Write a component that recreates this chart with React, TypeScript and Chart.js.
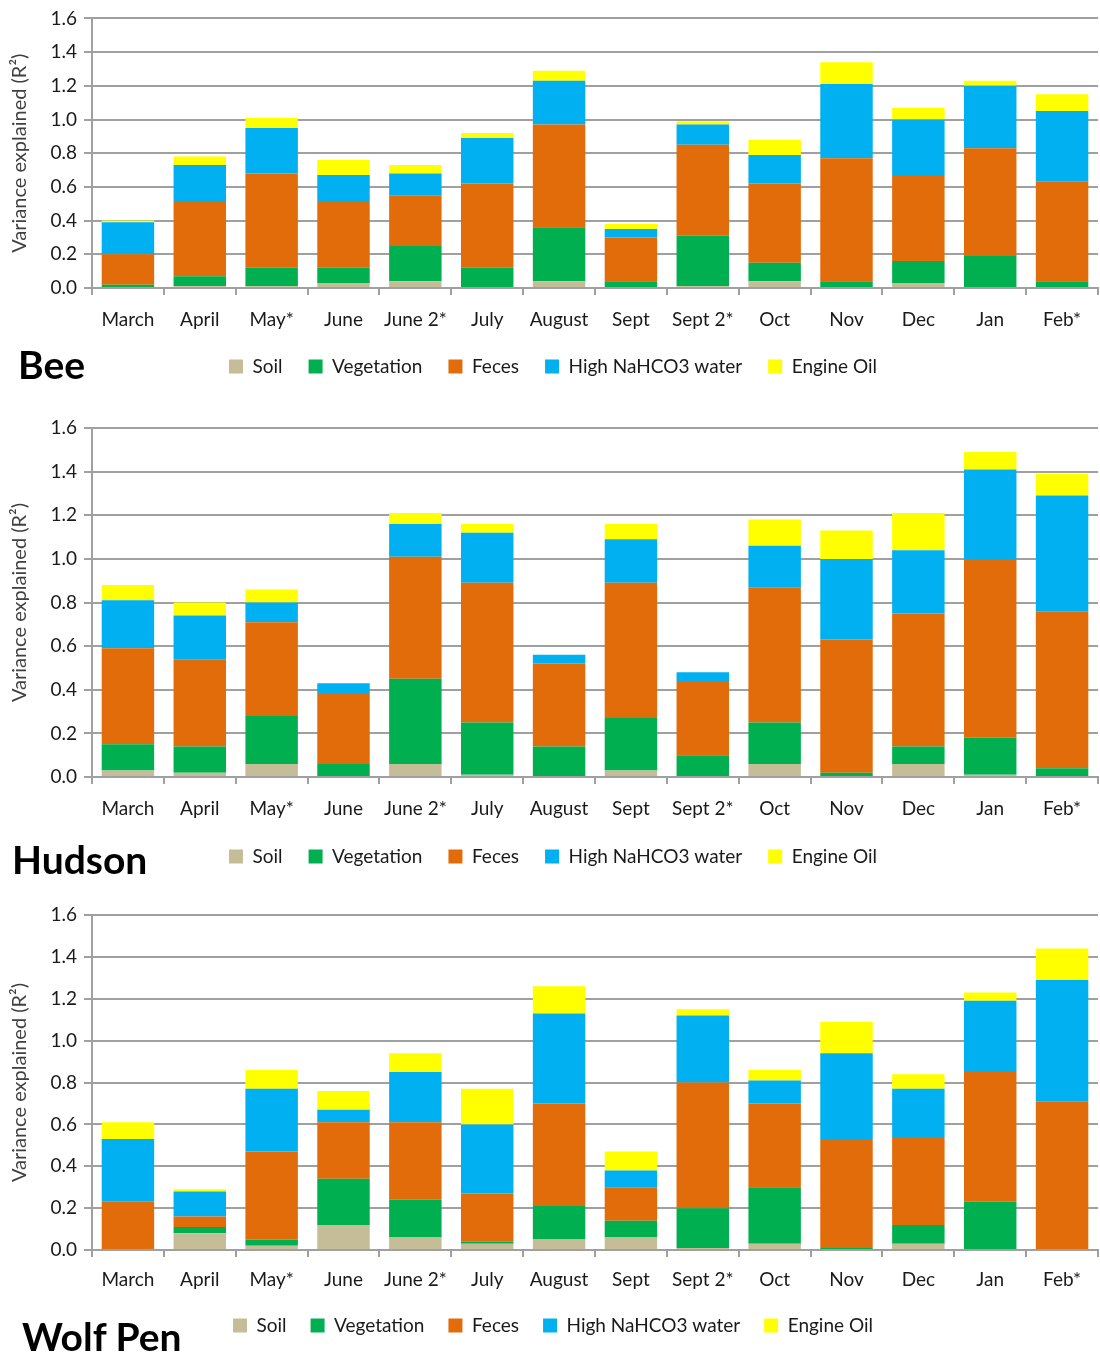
import React, { useEffect, useRef } from "react";
import { Chart, registerables } from "chart.js";
Chart.register(...registerables);

const categories = ["March", "April", "May*", "June", "June 2*", "July", "August", "Sept", "Sept 2*", "Oct", "Nov", "Dec", "Jan", "Feb*"];
const seriesNames = ["Soil", "Vegetation", "Feces", "High NaHCO3 water", "Engine Oil"];
const seriesColors = ["#C4BD97", "#00B050", "#E36C0A", "#00B0F0", "#FFFF00"];
const yTicks = [0, 0.2, 0.4, 0.6, 0.8, 1.0, 1.2, 1.4, 1.6];
const yTitle = "Variance explained (R²)";

// Bee
const beeSoil = [0, 0.01, 0.01, 0.03, 0.04, 0, 0.04, 0, 0.01, 0.04, 0, 0.03, 0, 0];
const beeVegetation = [0.02, 0.06, 0.11, 0.09, 0.21, 0.12, 0.32, 0.04, 0.30, 0.11, 0.04, 0.13, 0.19, 0.04];
const beeFeces = [0.18, 0.44, 0.56, 0.39, 0.30, 0.50, 0.61, 0.26, 0.54, 0.47, 0.73, 0.51, 0.64, 0.59];
const beeWater = [0.19, 0.22, 0.27, 0.16, 0.13, 0.27, 0.26, 0.05, 0.12, 0.17, 0.44, 0.33, 0.37, 0.42];
const beeOil = [0.01, 0.05, 0.06, 0.09, 0.05, 0.03, 0.06, 0.03, 0.02, 0.09, 0.13, 0.07, 0.03, 0.10];

// Hudson
const hudsonSoil = [0.03, 0.02, 0.06, 0, 0.06, 0.01, 0, 0.03, 0, 0.06, 0, 0.06, 0.01, 0];
const hudsonVegetation = [0.12, 0.12, 0.22, 0.06, 0.39, 0.24, 0.14, 0.24, 0.10, 0.19, 0.02, 0.08, 0.17, 0.04];
const hudsonFeces = [0.44, 0.40, 0.43, 0.32, 0.56, 0.64, 0.38, 0.62, 0.34, 0.62, 0.61, 0.61, 0.82, 0.72];
const hudsonWater = [0.22, 0.20, 0.09, 0.05, 0.15, 0.23, 0.04, 0.20, 0.04, 0.19, 0.37, 0.29, 0.41, 0.53];
const hudsonOil = [0.07, 0.06, 0.06, 0, 0.05, 0.04, 0, 0.07, 0, 0.12, 0.13, 0.17, 0.08, 0.10];

// Wolf Pen
const wolfSoil = [0, 0.08, 0.02, 0.12, 0.06, 0.03, 0.05, 0.06, 0.01, 0.03, 0, 0.03, 0, 0];
const wolfVegetation = [0, 0.03, 0.03, 0.22, 0.18, 0.01, 0.16, 0.08, 0.19, 0.27, 0.01, 0.09, 0.23, 0];
const wolfFeces = [0.23, 0.05, 0.42, 0.27, 0.37, 0.23, 0.49, 0.16, 0.60, 0.40, 0.52, 0.42, 0.62, 0.71];
const wolfWater = [0.30, 0.12, 0.30, 0.06, 0.24, 0.33, 0.43, 0.08, 0.32, 0.11, 0.41, 0.23, 0.34, 0.58];
const wolfOil = [0.08, 0.01, 0.09, 0.09, 0.09, 0.17, 0.13, 0.09, 0.03, 0.05, 0.15, 0.07, 0.04, 0.15];

const FONT = "Lato, 'Open Sans', sans-serif";
const GRID = "#a0a0a0";

type PanelProps = {
  title: string;
  series: number[][];
  top: number;
  height: number;
  padTop: number;
  xHeight: number;
  tickPad: number;
  legendPad: number;
  titleLeft: number;
  titleTop: number;
};

function Panel(p: PanelProps) {
  const ref = useRef<HTMLCanvasElement | null>(null);
  useEffect(() => {
    if (!ref.current) return;
    const chart = new Chart(ref.current, {
      type: "bar",
      data: {
        labels: categories,
        datasets: seriesNames.map((name, i) => ({
          label: name,
          data: p.series[i],
          backgroundColor: seriesColors[i],
          borderWidth: 0,
          barPercentage: 0.73,
          categoryPercentage: 1.0,
        })),
      },
      options: {
        animation: false,
        responsive: false,
        devicePixelRatio: 1,
        layout: { padding: { top: p.padTop, left: 8, right: 2, bottom: 0 } },
        plugins: {
          tooltip: { enabled: false },
          legend: {
            position: "bottom",
            labels: {
              boxWidth: 14,
              boxHeight: 14,
              padding: p.legendPad,
              color: "#1a1a1a",
              font: { family: FONT, size: 19 },
            },
          },
        },
        scales: {
          x: {
            stacked: true,
            afterFit: (s: any) => { s.height = p.xHeight; },
            grid: { display: true, drawOnChartArea: false, drawTicks: true, tickLength: 7, color: GRID, lineWidth: 2, offset: true },
            border: { display: true, color: GRID, width: 2 },
            ticks: { color: "#1a1a1a", font: { family: FONT, size: 19 }, padding: p.tickPad, maxRotation: 0, autoSkip: false },
          },
          y: {
            stacked: true,
            min: 0,
            max: 1.6,
            afterFit: (s: any) => { s.width = 84; },
            afterBuildTicks: (s: any) => { s.ticks = yTicks.map((v) => ({ value: v })); },
            grid: { color: GRID, lineWidth: 2, tickLength: 8 },
            border: { display: true, color: GRID, width: 2 },
            ticks: {
              color: "#1a1a1a",
              font: { family: FONT, size: 19 },
              padding: 7,
              callback: (v: any) => Number(v).toFixed(1),
            },
            title: {
              display: true,
              text: yTitle,
              color: "#404040",
              font: { family: FONT, size: 20 },
              padding: 0,
            },
          },
        },
      },
    });
    return () => chart.destroy();
  }, []);
  return (
    <>
      <canvas
        ref={ref}
        width={1100}
        height={p.height}
        style={{ position: "absolute", left: 0, top: p.top, width: 1100, height: p.height }}
      />
      <div
        style={{
          position: "absolute",
          left: p.titleLeft,
          top: p.titleTop,
          fontFamily: FONT,
          fontWeight: 700,
          fontSize: 39,
          lineHeight: 1,
          color: "#000",
          whiteSpace: "nowrap",
        }}
      >
        {p.title}
      </div>
    </>
  );
}

export default function App() {
  return (
    <div style={{ position: "absolute", left: 0, top: 0, width: 1100, height: 1354, background: "#fff", overflow: "hidden" }}>
      <Panel title="Bee" series={[beeSoil, beeVegetation, beeFeces, beeWater, beeOil]}
        top={0} height={386} padTop={15} xHeight={43} tickPad={13} legendPad={26} titleLeft={18} titleTop={345} />
      <Panel title="Hudson" series={[hudsonSoil, hudsonVegetation, hudsonFeces, hudsonWater, hudsonOil]}
        top={400} height={476} padTop={28} xHeight={44} tickPad={13} legendPad={26} titleLeft={12} titleTop={840} />
      <Panel title="Wolf Pen" series={[wolfSoil, wolfVegetation, wolfFeces, wolfWater, wolfOil]}
        top={895} height={450} padTop={20} xHeight={42} tickPad={11} legendPad={24} titleLeft={22} titleTop={1317} />
    </div>
  );
}
